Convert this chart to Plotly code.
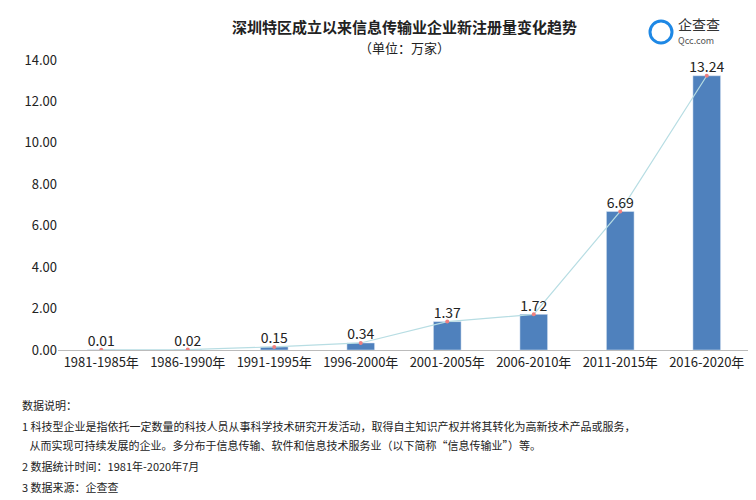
import plotly.graph_objects as go

categories = ["1981-1985年","1986-1990年","1991-1995年","1996-2000年","2001-2005年","2006-2010年","2011-2015年","2016-2020年"]
values = [0.01, 0.02, 0.15, 0.34, 1.37, 1.72, 6.69, 13.24]
labels = ["0.01","0.02","0.15","0.34","1.37","1.72","6.69","13.24"]
ytick_vals = [0,2,4,6,8,10,12,14]
ytick_text = ["0.00","2.00","4.00","6.00","8.00","10.00","12.00","14.00"]

font = "Noto Sans CJK SC"
fig = go.Figure()
fig.add_trace(go.Bar(x=categories, y=values, marker_color="#4f81bd", width=0.32))
fig.add_trace(go.Scatter(x=categories, y=values, mode="lines+markers",
                         line=dict(color="#b7dde3", width=1.2),
                         marker=dict(color="#f08080", size=4)))
fig.add_trace(go.Scatter(x=categories, y=values, mode="text", text=labels, textposition="top center",
                         textfont=dict(size=14, color="#222"), cliponaxis=False))
fig.update_layout(
    width=756, height=500, showlegend=False, plot_bgcolor="white", paper_bgcolor="white",
    margin=dict(l=50, r=14, t=52, b=158), font=dict(family=font, color="#222"),
    xaxis=dict(tickfont=dict(size=13), showline=True, linecolor="#bbb", ticks="", automargin=False),
    yaxis=dict(range=[0,14], tickvals=ytick_vals, ticktext=ytick_text, tickfont=dict(size=13),
               showgrid=False, zeroline=False, automargin=False),
)
def py(y):
    return (342-y)/290
fig.add_annotation(xref="paper", yref="paper", x=0.5, y=py(18), text="<b>深圳特区成立以来信息传输业企业新注册量变化趋势</b>",
                   showarrow=False, font=dict(size=15), xanchor="center", yanchor="middle")
fig.add_annotation(xref="paper", yref="paper", x=0.5, y=py(39), text="（单位：万家）",
                   showarrow=False, font=dict(size=13), xanchor="center", yanchor="middle")
foot = [
    (397, "数据说明："),
    (418, "1 科技型企业是指依托一定数量的科技人员从事科学技术研究开发活动，取得自主知识产权并将其转化为高新技术产品或服务，"),
    (437, "   从而实现可持续发展的企业。多分布于信息传输、软件和信息技术服务业（以下简称“信息传输业”）等。"),
    (458, "2 数据统计时间：1981年-2020年7月"),
    (479, "3 数据来源：企查查"),
]
for y, t in foot:
    fig.add_annotation(xref="paper", yref="paper", x=(12-50)/692, y=py(y), text=t, showarrow=False,
                       font=dict(size=11), xanchor="left", yanchor="middle")
fig.add_annotation(xref="paper", yref="paper", x=(668-50)/692, y=py(16), text="企查查", showarrow=False,
                   font=dict(size=14, color="#333"), xanchor="left", yanchor="middle")
fig.add_annotation(xref="paper", yref="paper", x=(668-50)/692, y=py(32), text="Qcc.com", showarrow=False,
                   font=dict(size=9, color="#555"), xanchor="left", yanchor="middle")
fig.add_shape(type="circle", xref="paper", yref="paper", x0=(642-50)/692, x1=(664-50)/692,
              y0=py(35), y1=py(13), line=dict(color="#1e88e5", width=3))
fig.write_html("out.html")
